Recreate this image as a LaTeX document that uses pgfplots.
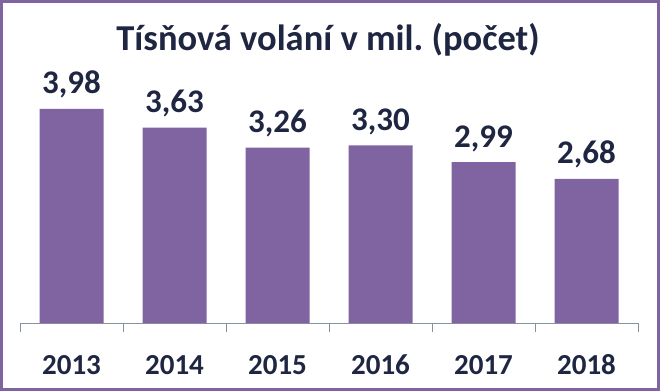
\documentclass[border=0pt]{standalone}
\usepackage{pgfplots}
\pgfplotsset{compat=1.18}
\usepackage{fontspec}
\setmainfont{Carlito}
\definecolor{barpurple}{RGB}{128,100,162}
\definecolor{navy}{RGB}{31,38,66}
\definecolor{axisgrey}{RGB}{134,146,160}
\begin{document}
\begin{tikzpicture}
\useasboundingbox (-20bp,-68bp) rectangle (640bp,323bp);
\fill[white] (-20bp,-68bp) rectangle (640bp,323bp);
\begin{axis}[
  anchor=south west, at={(0,0)},
  scale only axis,
  width=618bp, height=215.2bp,
  xmin=-0.5, xmax=5.5, ymin=0, ymax=4,
  axis x line*=bottom,
  hide y axis,
  axis line style={axisgrey, line width=1bp},
  xtick={0,1,2,3,4,5},
  xticklabels={2013,2014,2015,2016,2017,2018},
  major x tick style={draw=none},
  minor xtick={-0.5,0.5,1.5,2.5,3.5,4.5,5.5},
  minor x tick style={axisgrey, line width=1bp},
  minor tick length=9bp,
  xtick align=outside,
  xticklabel style={anchor=base, yshift=-47bp, font=\fontsize{29bp}{32bp}\selectfont\bfseries, text=navy},
  clip=false,
  ybar, bar width=64bp, bar shift=0pt,
  nodes near coords={\pgfmathprintnumber[fixed, fixed zerofill, precision=2, use comma, assume math mode=true]{\pgfplotspointmeta}},
  every node near coord/.append style={anchor=base, yshift=15bp, font=\fontsize{33bp}{36bp}\selectfont\bfseries, text=navy},
]
\addplot[fill=barpurple, draw=none] coordinates {(0,3.98) (1,3.63) (2,3.26) (3,3.30) (4,2.99) (5,2.68)};
\end{axis}
\node[anchor=base, text=navy, font=\fontsize{36.5bp}{40bp}\selectfont\bfseries] at (308bp,272bp) {Tísňová volání v mil.\ (počet)};
\draw[barpurple, line width=3bp] (-18.5bp,-66.5bp) rectangle (638.5bp,321.5bp);
\end{tikzpicture}
\end{document}
